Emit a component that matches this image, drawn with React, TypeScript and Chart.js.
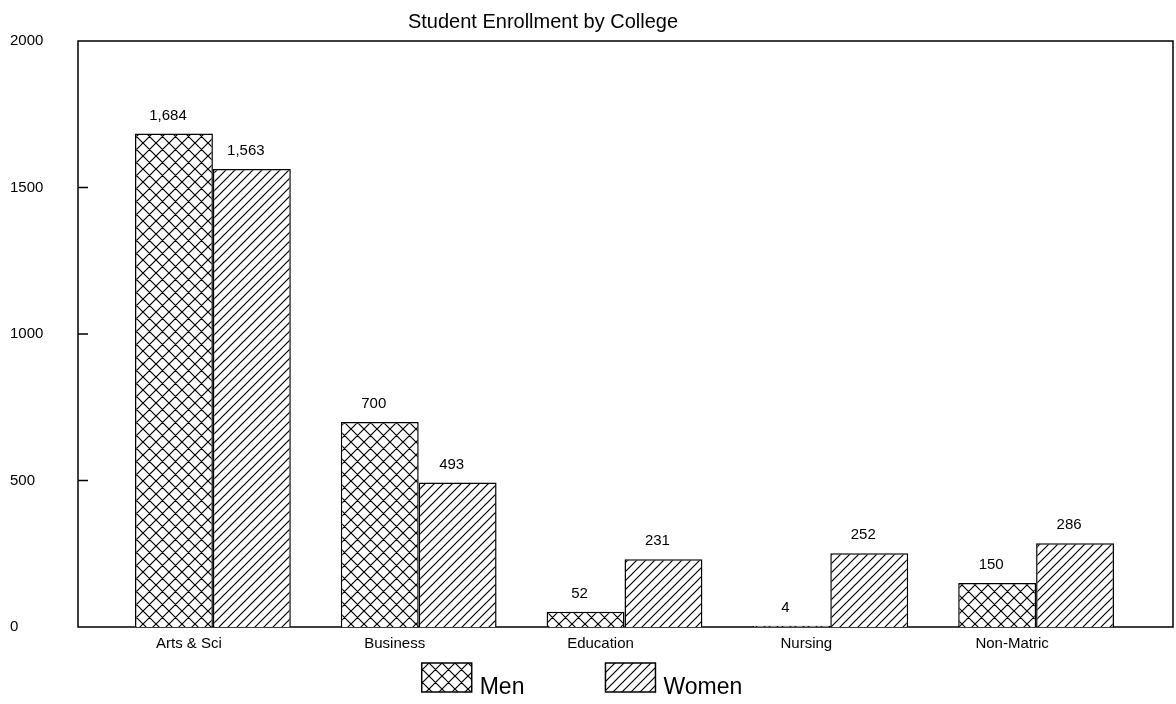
import React, { useEffect, useRef } from "react";
import { Chart, registerables } from "chart.js";

Chart.register(...registerables);

const TITLE = "Student Enrollment by College";
const colleges = ["Arts & Sci", "Business", "Education", "Nursing", "Non-Matric"];
const menValues = [1684, 700, 52, 4, 150];
const womenValues = [1563, 493, 231, 252, 286];
const seriesNames = ["Men", "Women"];
const yMin = 0;
const yMax = 2000;
const yStep = 500;

const FONT = "'Liberation Sans', Arial, Helvetica, sans-serif";

function makePattern(
  ctx: CanvasRenderingContext2D,
  kind: "cross" | "diag",
  p: number
): CanvasPattern {
  const c = document.createElement("canvas");
  c.width = p;
  c.height = p;
  const g = c.getContext("2d")!;
  g.fillStyle = "#fff";
  g.fillRect(0, 0, p, p);
  g.strokeStyle = "#000";
  g.lineWidth = 1.2;
  g.beginPath();
  g.moveTo(-1, p + 1);
  g.lineTo(p + 1, -1);
  g.moveTo(-1, 1);
  g.lineTo(1, -1);
  g.moveTo(p - 1, p + 1);
  g.lineTo(p + 1, p - 1);
  if (kind === "cross") {
    g.moveTo(-1, -1);
    g.lineTo(p + 1, p + 1);
    g.moveTo(p - 1, -1);
    g.lineTo(p + 1, 1);
    g.moveTo(-1, p - 1);
    g.lineTo(1, p + 1);
  }
  g.stroke();
  return ctx.createPattern(c, "repeat")!;
}

const framePlugin = {
  id: "frameAndLabels",
  beforeDatasetsDraw(chart: any) {
    const { ctx, chartArea: a } = chart;
    const left = a.left - 32;
    const right = a.right + 34;
    ctx.save();
    ctx.strokeStyle = "#000";
    ctx.lineWidth = 1.5;
    ctx.strokeRect(left, a.top, right - left, a.bottom - a.top);
    const ys = chart.scales.y;
    ctx.beginPath();
    ys.ticks.forEach((t: any) => {
      if (t.value > yMin && t.value < yMax) {
        const y = ys.getPixelForValue(t.value);
        ctx.moveTo(left, y);
        ctx.lineTo(left + 10, y);
      }
    });
    ctx.stroke();
    ctx.restore();
  },
  afterDraw(chart: any) {
    const { ctx } = chart;
    ctx.save();
    ctx.fillStyle = "#000";
    // value labels
    ctx.font = `15px ${FONT}`;
    ctx.textAlign = "center";
    ctx.textBaseline = "middle";
    chart.data.datasets.forEach((ds: any, di: number) => {
      const meta = chart.getDatasetMeta(di);
      meta.data.forEach((bar: any, i: number) => {
        ctx.fillText(Number(ds.data[i]).toLocaleString("en-US"), bar.x - 6, bar.y - 18);
      });
    });
    // title
    ctx.font = `20px ${FONT}`;
    ctx.fillText(TITLE, chart.width / 2 - 45, 22);
    // legend
    ctx.font = `23px ${FONT}`;
    ctx.textAlign = "left";
    ctx.textBaseline = "alphabetic";
    const boxW = 50;
    const boxH = 29;
    const gapText = 8;
    const gapItems = 81;
    const widths = chart.data.datasets.map(
      (ds: any) => boxW + gapText + ctx.measureText(ds.label).width
    );
    const total = widths.reduce((s: number, w: number) => s + w, 0) + gapItems * (widths.length - 1);
    let x = chart.width / 2 - total / 2 - 6;
    const boxTop = 663;
    chart.data.datasets.forEach((ds: any, di: number) => {
      ctx.fillStyle = ds.backgroundColor;
      ctx.fillRect(x, boxTop, boxW, boxH);
      ctx.strokeStyle = "#000";
      ctx.lineWidth = 1.5;
      ctx.strokeRect(x, boxTop, boxW, boxH);
      ctx.fillStyle = "#000";
      ctx.fillText(ds.label, x + boxW + gapText, boxTop + boxH + 2);
      x += widths[di] + gapItems;
    });
    ctx.restore();
  },
};

export default function App() {
  const ref = useRef<HTMLCanvasElement>(null);

  useEffect(() => {
    const canvas = ref.current!;
    const ctx = canvas.getContext("2d")!;
    const menPattern = makePattern(ctx, "cross", 13);
    const womenPattern = makePattern(ctx, "diag", 9);

    const chart = new Chart(canvas, {
      type: "bar",
      data: {
        labels: colleges,
        datasets: [
          {
            label: seriesNames[0],
            data: menValues,
            backgroundColor: menPattern as any,
            borderColor: "#000",
            borderWidth: 1.5,
            barPercentage: 1,
            categoryPercentage: 0.757,
          },
          {
            label: seriesNames[1],
            data: womenValues,
            backgroundColor: womenPattern as any,
            borderColor: "#000",
            borderWidth: 1.5,
            barPercentage: 1,
            categoryPercentage: 0.757,
          },
        ],
      },
      options: {
        responsive: false,
        animation: false,
        devicePixelRatio: 1,
        layout: { padding: { left: 10, right: 37, top: 41, bottom: 0 } },
        plugins: {
          legend: { display: false },
          title: { display: false },
          tooltip: { enabled: false },
        },
        scales: {
          x: {
            grid: { display: false, drawTicks: false },
            border: { display: false },
            ticks: {
              color: "#000",
              font: { family: FONT, size: 15 },
              padding: 8,
              labelOffset: -24,
              maxRotation: 0,
            },
            afterFit: (s: any) => {
              s.height = 77;
            },
          },
          y: {
            min: yMin,
            max: yMax,
            grid: { display: false, drawTicks: false },
            border: { display: false },
            ticks: {
              stepSize: yStep,
              color: "#000",
              font: { family: FONT, size: 15 },
              crossAlign: "far",
              callback: (v: any) => String(v),
            },
            afterFit: (s: any) => {
              s.width = 100;
            },
          },
        },
      },
      plugins: [framePlugin],
    });
    return () => chart.destroy();
  }, []);

  return (
    <div style={{ position: "absolute", left: 0, top: 0, width: 1176, height: 704, background: "#fff" }}>
      <canvas ref={ref} width={1176} height={704} style={{ display: "block" }} />
    </div>
  );
}
